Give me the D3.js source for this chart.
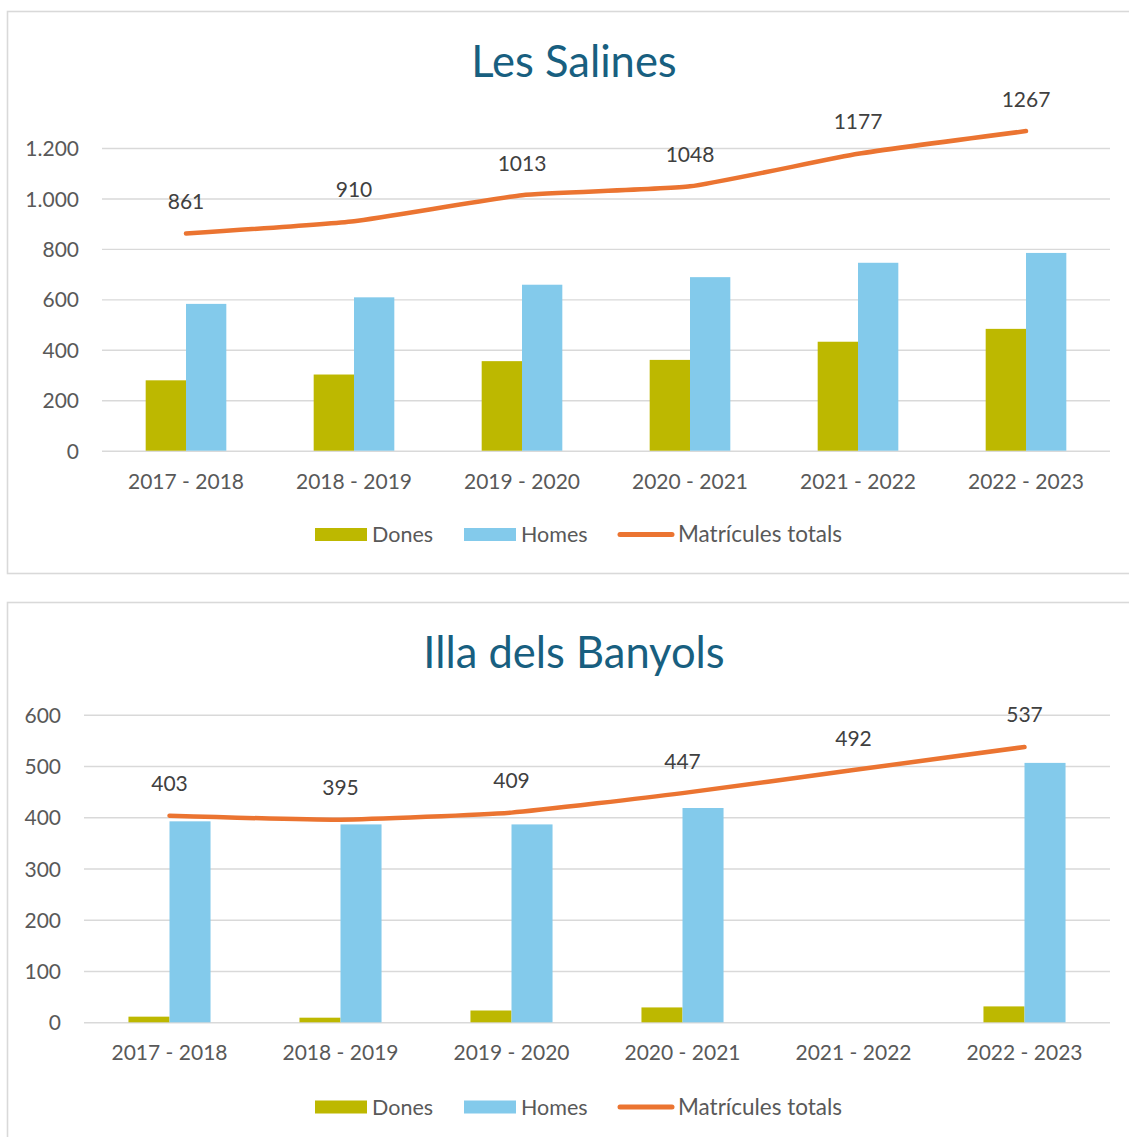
<!DOCTYPE html>
<html>
<head>
<meta charset="utf-8">
<script src="https://cdn.jsdelivr.net/npm/d3@7"></script>
<style>
  html, body { margin: 0; padding: 0; background: #ffffff; }
  svg { display: block; }
  text { font-family: Lato, "Open Sans", sans-serif; }
</style>
</head>
<body>
<svg id="chart" width="1129" height="1137"></svg>
<script>
// ---------- data ----------
const categories = ["2017 - 2018", "2018 - 2019", "2019 - 2020", "2020 - 2021", "2021 - 2022", "2022 - 2023"];
const seriesNames = ["Dones", "Homes", "Matrícules totals"];

const salinesTitle = "Les Salines";
const salinesDones = [279, 302, 355, 360, 432, 483];
const salinesHomes = [582, 608, 658, 688, 745, 784];
const salinesTotal = [861, 910, 1013, 1048, 1177, 1267];
const salinesTicks = [0, 200, 400, 600, 800, 1000, 1200];
const salinesTickLabels = ["0", "200", "400", "600", "800", "1.000", "1.200"];

const banyolsTitle = "Illa dels Banyols";
const banyolsDones = [11, 9, 23, 29, null, 31];
const banyolsHomes = [392, 386, 386, 418, null, 506];
const banyolsTotal = [403, 395, 409, 447, 492, 537];
const banyolsTicks = [0, 100, 200, 300, 400, 500, 600];
const banyolsTickLabels = ["0", "100", "200", "300", "400", "500", "600"];

// ---------- style ----------
const colDones = "#BDB800";
const colHomes = "#83CAEB";
const colTotal = "#EB7431";
const colTitle = "#185F80";
const colGrid = "#D9D9D9";
const colAxisText = "#595959";
const colLabel = "#404040";

const svg = d3.select("#chart");

function drawPanel(cfg) {
  const g = svg.append("g");
  // panel border
  g.append("rect")
    .attr("x", 7.5).attr("y", cfg.panelTop)
    .attr("width", 1130).attr("height", cfg.panelHeight)
    .attr("fill", "#fff").attr("stroke", colGrid).attr("stroke-width", 1.6);

  // title
  g.append("text")
    .attr("x", 574).attr("y", cfg.titleY)
    .attr("text-anchor", "middle")
    .attr("font-size", 43.5)
    .attr("fill", colTitle)
    .text(cfg.title);

  const x = d3.scaleBand().domain(categories).range([cfg.x0, 1110]).paddingInner(0).paddingOuter(0);
  const y = d3.scaleLinear().domain([0, cfg.ticks[cfg.ticks.length - 1]]).range([cfg.yBottom, cfg.yTop]);
  const groupW = x.bandwidth() * 0.48;
  const xs = d3.scaleBand().domain(["Dones", "Homes"]).range([0, groupW]);

  // gridlines + y tick labels
  const yAxis = d3.axisLeft(y).tickValues(cfg.ticks)
    .tickSize(-(1110 - cfg.x0))
    .tickFormat((d, i) => cfg.tickLabels[i]);
  const ag = g.append("g").attr("transform", `translate(${cfg.x0},0)`).call(yAxis);
  ag.select(".domain").remove();
  ag.selectAll(".tick line").attr("stroke", colGrid).attr("stroke-width", 1.4);
  ag.selectAll(".tick text")
    .attr("x", cfg.tickTextRight - cfg.x0)
    .attr("dy", "0.36em")
    .attr("font-size", 21)
    .attr("font-family", "Lato, sans-serif")
    .attr("fill", colAxisText);

  // x axis labels
  const xAxis = d3.axisBottom(x).tickSize(0).tickPadding(0);
  const xg = g.append("g").attr("transform", `translate(0,${cfg.yBottom})`).call(xAxis);
  xg.select(".domain").remove();
  xg.selectAll(".tick text")
    .attr("y", 38).attr("dy", 0)
    .attr("font-size", 21)
    .attr("font-family", "Lato, sans-serif")
    .attr("fill", colAxisText);

  // bars
  const rows = categories.map((c, i) => ({ c, Dones: cfg.dones[i], Homes: cfg.homes[i] }));
  const grp = g.append("g");
  rows.forEach(r => {
    ["Dones", "Homes"].forEach(k => {
      if (r[k] == null) return;
      grp.append("rect")
        .attr("x", x(r.c) + x.bandwidth() / 2 - groupW / 2 + xs(k))
        .attr("y", y(r[k]))
        .attr("width", xs.bandwidth())
        .attr("height", y(0) - y(r[k]))
        .attr("fill", k === "Dones" ? colDones : colHomes);
    });
  });

  // total line (lightly smoothed)
  const pts = categories.map((c, i) => [x(c) + x.bandwidth() / 2, y(cfg.total[i])]);
  g.append("path")
    .attr("d", d3.line().curve(d3.curveCardinal.tension(0.55))(pts))
    .attr("fill", "none")
    .attr("stroke", colTotal)
    .attr("stroke-width", 4.5)
    .attr("stroke-linecap", "round")
    .attr("stroke-linejoin", "round");

  // data labels
  g.selectAll(null).data(cfg.total).enter().append("text")
    .attr("x", (d, i) => x(categories[i]) + x.bandwidth() / 2)
    .attr("y", d => y(d) - 24.5)
    .attr("text-anchor", "middle")
    .attr("font-size", 21)
    .attr("fill", colLabel)
    .text(d => d);

  // legend
  const ly = cfg.legendY;
  const lg = g.append("g");
  lg.append("rect").attr("x", 315).attr("y", ly - 6.5).attr("width", 52).attr("height", 13).attr("fill", colDones);
  lg.append("text").attr("x", 372).attr("y", ly + 7.5).attr("font-size", 21.5).attr("fill", colAxisText).text(seriesNames[0]);
  lg.append("rect").attr("x", 464).attr("y", ly - 6.5).attr("width", 52).attr("height", 13).attr("fill", colHomes);
  lg.append("text").attr("x", 521).attr("y", ly + 7.5).attr("font-size", 21.5).attr("fill", colAxisText).text(seriesNames[1]);
  lg.append("line").attr("x1", 620).attr("x2", 672).attr("y1", ly).attr("y2", ly)
    .attr("stroke", colTotal).attr("stroke-width", 5).attr("stroke-linecap", "round");
  lg.append("text").attr("x", 678).attr("y", ly + 7.5).attr("font-size", 22.5).attr("fill", colAxisText).text(seriesNames[2]);
}

drawPanel({
  title: salinesTitle, panelTop: 11.5, panelHeight: 562, titleY: 77,
  x0: 102, yBottom: 450.7, yTop: 148, tickTextRight: 79,
  ticks: salinesTicks, tickLabels: salinesTickLabels,
  dones: salinesDones, homes: salinesHomes, total: salinesTotal,
  legendY: 534.5
});

drawPanel({
  title: banyolsTitle, panelTop: 602.5, panelHeight: 560, titleY: 668,
  x0: 84, yBottom: 1022.3, yTop: 714.7, tickTextRight: 61,
  ticks: banyolsTicks, tickLabels: banyolsTickLabels,
  dones: banyolsDones, homes: banyolsHomes, total: banyolsTotal,
  legendY: 1107
});
</script>
</body>
</html>
